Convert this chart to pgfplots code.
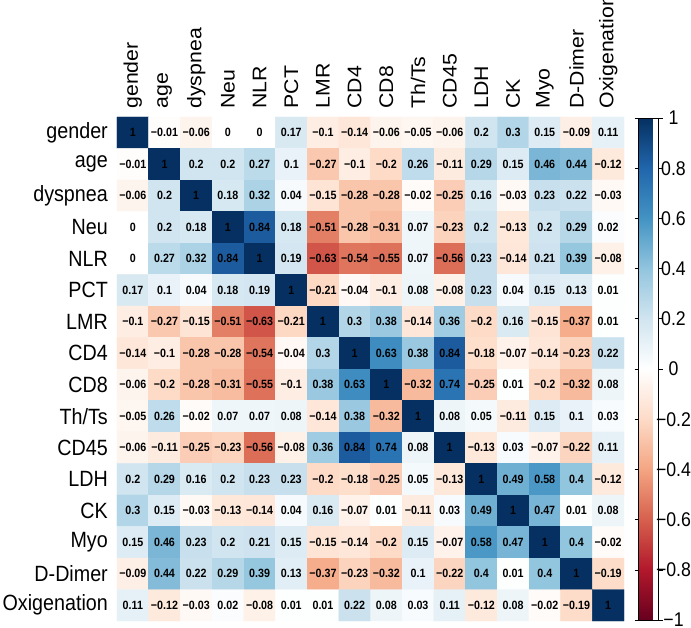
\documentclass[border=0pt]{standalone}
\usepackage{pgfplots}
\pgfplotsset{compat=1.18}
\usepackage{fontspec}
\setmainfont{Liberation Sans}
\def\fm#1{\expandafter\fmm#1\relax}
\def\fmm#1#2\relax{\ifx-#1\char"2212\relax#2\else#1#2\fi}
\begin{document}
\begin{tikzpicture}
\begin{axis}[
  scale only axis, width=507pt, height=504pt,
  xmin=-0.5, xmax=15.5, ymin=-0.5, ymax=15.5,
  enlargelimits=false,
  axis line style={draw=none}, major tick length=0pt,
  xtick={0,...,15}, ytick={0,...,15},
  xticklabels={gender,age,dyspnea,Neu,NLR,PCT,LMR,CD4,CD8,Th/Ts,CD45,LDH,CK,Myo,D-Dimer,Oxigenation},
  yticklabels={Oxigenation,D-Dimer,Myo,CK,LDH,CD45,Th/Ts,CD8,CD4,LMR,PCT,NLR,Neu,dyspnea,age,gender},
  xticklabel pos=upper,
  xticklabel shift=5pt, yticklabel shift=6pt,
  xticklabel style={yscale=1.08, rotate=90, anchor=west, font=\fontsize{19.7}{24}\selectfont, inner sep=3pt},
  yticklabel style={yscale=1.12, anchor=east, font=\fontsize{19.7}{24}\selectfont, inner sep=3pt},
  colormap={rdbu}{rgb255(0cm)=(103,0,31); rgb255(1cm)=(178,24,43); rgb255(2cm)=(214,96,77); rgb255(3cm)=(244,165,130); rgb255(4cm)=(253,219,199); rgb255(5cm)=(255,255,255); rgb255(6cm)=(209,229,240); rgb255(7cm)=(146,197,222); rgb255(8cm)=(67,147,195); rgb255(9cm)=(33,102,172); rgb255(10cm)=(5,48,97)},
  point meta min=-1, point meta max=1,
  colorbar,
  colorbar style={
    at={(parent axis.north east)}, anchor=north west, xshift=6pt, yshift=-1pt,
    scale only axis, width=20pt, height=502pt,
    axis line style={draw=black, line width=0.6pt},
    ytick={-1,-0.8,-0.6,-0.4,-0.2,0,0.2,0.4,0.6,0.8,1},
    yticklabels={−1,−0.8,−0.6,−0.4,−0.2,0,0.2,0.4,0.6,0.8,1},
    yticklabel style={yscale=1.12, anchor=center, xshift=11pt, font=\fontsize{17.7}{22}\selectfont, inner sep=0pt},
    major tick length=4pt, tick align=outside,
    ytick style={draw=black, line width=0.6pt},
  },
]
\addplot[matrix plot*, mesh/cols=16, point meta=explicit,
  visualization depends on={value \thisrow{c} \as \cval},
  nodes near coords={\fm\cval},
  every node near coord/.append style={yscale=1.12, anchor=center, font=\bfseries\fontsize{10.7}{12}\selectfont, text=black, inner sep=0pt},
] table[row sep=\\, x expr={\coordindex-16*floor((\coordindex+0.5)/16)}, y expr={15-floor((\coordindex+0.5)/16)}, meta=c] {
c\\
1\\-0.01\\-0.06\\0\\0\\0.17\\-0.1\\-0.14\\-0.06\\-0.05\\-0.06\\0.2\\0.3\\0.15\\-0.09\\0.11\\
-0.01\\1\\0.2\\0.2\\0.27\\0.1\\-0.27\\-0.1\\-0.2\\0.26\\-0.11\\0.29\\0.15\\0.46\\0.44\\-0.12\\
-0.06\\0.2\\1\\0.18\\0.32\\0.04\\-0.15\\-0.28\\-0.28\\-0.02\\-0.25\\0.16\\-0.03\\0.23\\0.22\\-0.03\\
0\\0.2\\0.18\\1\\0.84\\0.18\\-0.51\\-0.28\\-0.31\\0.07\\-0.23\\0.2\\-0.13\\0.2\\0.29\\0.02\\
0\\0.27\\0.32\\0.84\\1\\0.19\\-0.63\\-0.54\\-0.55\\0.07\\-0.56\\0.23\\-0.14\\0.21\\0.39\\-0.08\\
0.17\\0.1\\0.04\\0.18\\0.19\\1\\-0.21\\-0.04\\-0.1\\0.08\\-0.08\\0.23\\0.04\\0.15\\0.13\\0.01\\
-0.1\\-0.27\\-0.15\\-0.51\\-0.63\\-0.21\\1\\0.3\\0.38\\-0.14\\0.36\\-0.2\\0.16\\-0.15\\-0.37\\0.01\\
-0.14\\-0.1\\-0.28\\-0.28\\-0.54\\-0.04\\0.3\\1\\0.63\\0.38\\0.84\\-0.18\\-0.07\\-0.14\\-0.23\\0.22\\
-0.06\\-0.2\\-0.28\\-0.31\\-0.55\\-0.1\\0.38\\0.63\\1\\-0.32\\0.74\\-0.25\\0.01\\-0.2\\-0.32\\0.08\\
-0.05\\0.26\\-0.02\\0.07\\0.07\\0.08\\-0.14\\0.38\\-0.32\\1\\0.08\\0.05\\-0.11\\0.15\\0.1\\0.03\\
-0.06\\-0.11\\-0.25\\-0.23\\-0.56\\-0.08\\0.36\\0.84\\0.74\\0.08\\1\\-0.13\\0.03\\-0.07\\-0.22\\0.11\\
0.2\\0.29\\0.16\\0.2\\0.23\\0.23\\-0.2\\-0.18\\-0.25\\0.05\\-0.13\\1\\0.49\\0.58\\0.4\\-0.12\\
0.3\\0.15\\-0.03\\-0.13\\-0.14\\0.04\\0.16\\-0.07\\0.01\\-0.11\\0.03\\0.49\\1\\0.47\\0.01\\0.08\\
0.15\\0.46\\0.23\\0.2\\0.21\\0.15\\-0.15\\-0.14\\-0.2\\0.15\\-0.07\\0.58\\0.47\\1\\0.4\\-0.02\\
-0.09\\0.44\\0.22\\0.29\\0.39\\0.13\\-0.37\\-0.23\\-0.32\\0.1\\-0.22\\0.4\\0.01\\0.4\\1\\-0.19\\
0.11\\-0.12\\-0.03\\0.02\\-0.08\\0.01\\0.01\\0.22\\0.08\\0.03\\0.11\\-0.12\\0.08\\-0.02\\-0.19\\1\\
};
\end{axis}
\pgfresetboundingbox
\path[use as bounding box] (-117pt,-6pt) rectangle (574pt,621pt);
\end{tikzpicture}
\end{document}
